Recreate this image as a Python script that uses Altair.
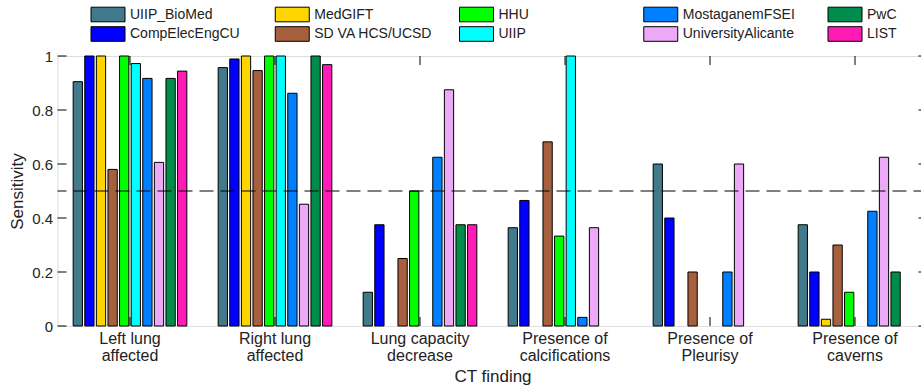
import altair as alt
import pandas as pd

findings = ["Left lung|affected", "Right lung|affected", "Lung capacity|decrease",
            "Presence of|calcifications", "Presence of|Pleurisy", "Presence of|caverns"]

teams = ["UIIP_BioMed", "CompElecEngCU", "MedGIFT", "SD VA HCS/UCSD", "HHU",
         "UIIP", "MostaganemFSEI", "UniversityAlicante", "PwC", "LIST"]
colors = ["#417A8B", "#0000FF", "#FFD500", "#A6603E", "#00FF00",
          "#00FFFF", "#0080FF", "#EBA9F7", "#008C4B", "#FF1CB6"]

uiip_biomed = [0.905, 0.957, 0.125, 0.364, 0.600, 0.375]
compelec = [1.000, 0.989, 0.375, 0.465, 0.400, 0.200]
medgift = [1.000, 1.000, 0.000, 0.000, 0.000, 0.025]
sdva = [0.580, 0.946, 0.250, 0.682, 0.200, 0.300]
hhu = [1.000, 1.000, 0.500, 0.333, 0.000, 0.125]
uiip = [0.972, 1.000, 0.000, 1.000, 0.000, 0.000]
mostaganem = [0.917, 0.862, 0.625, 0.032, 0.200, 0.425]
alicante = [0.606, 0.451, 0.875, 0.364, 0.600, 0.625]
pwc = [0.917, 1.000, 0.375, 0.000, 0.000, 0.200]
list_team = [0.944, 0.968, 0.375, 0.000, 0.000, 0.000]

series = [uiip_biomed, compelec, medgift, sdva, hhu, uiip, mostaganem, alicante, pwc, list_team]

y_ticks = [0, 0.2, 0.4, 0.6, 0.8, 1.0]

rows = []
for t, vals in zip(teams, series):
    for f, v in zip(findings, vals):
        rows.append({"finding": f, "team": t, "value": v})
df = pd.DataFrame(rows)

# legend grid: 2 rows x 5 columns, filled column by column
leg_df = pd.DataFrame({"team": teams,
                       "col": [i // 2 for i in range(len(teams))],
                       "row": [i % 2 for i in range(len(teams))]})

FONT = "Liberation Sans"
W, H = 870, 270
TXT = "#222"

xscale = alt.Scale(domain=findings, paddingInner=0.2, paddingOuter=0.1)
yscale = alt.Scale(domain=[0, 1], nice=False)
cscale = alt.Scale(domain=teams, range=colors)

xaxis = alt.Axis(title="CT finding", labelAngle=0, ticks=False, domain=False,
                 labelExpr="split(datum.label, '|')", labelFont=FONT,
                 labelFontSize=16, labelLineHeight=17, labelPadding=4,
                 labelColor=TXT, titleFont=FONT, titleFontSize=17,
                 titleFontWeight="normal", titleColor=TXT, titlePadding=5)
yaxis = alt.Axis(title="Sensitivity", values=y_ticks, format="~g", ticks=False,
                 domain=False, grid=False, labelFont=FONT, labelFontSize=15,
                 labelPadding=5, labelColor=TXT, titleFont=FONT,
                 titleFontSize=17, titleFontWeight="normal", titleColor=TXT,
                 titlePadding=5)

bars = alt.Chart(df).transform_filter("datum.value > 0").mark_bar(
    stroke="black", strokeWidth=1).encode(
    x=alt.X("finding:N", scale=xscale, sort=findings, axis=xaxis),
    xOffset=alt.XOffset("team:N", sort=teams,
                        scale=alt.Scale(domain=teams, paddingInner=0.2, paddingOuter=0.1)),
    y=alt.Y("value:Q", scale=yscale, axis=yaxis),
    color=alt.Color("team:N", scale=cscale, legend=None),
)

tick_df = pd.DataFrame({"v": y_ticks})
cat_df = pd.DataFrame({"finding": findings})

left_ticks = alt.Chart(tick_df).mark_rule(color="black", strokeWidth=1).encode(
    y=alt.Y("v:Q", scale=yscale, axis=None), x=alt.value(0), x2=alt.value(9))
right_ticks = alt.Chart(tick_df).mark_rule(color="black", strokeWidth=1).encode(
    y=alt.Y("v:Q", scale=yscale, axis=None), x=alt.value(W - 9), x2=alt.value(W))
top_ticks = alt.Chart(cat_df).mark_rule(color="black", strokeWidth=1).encode(
    x=alt.X("finding:N", scale=xscale, sort=findings, axis=None),
    y=alt.value(0), y2=alt.value(9))
bottom_ticks = alt.Chart(cat_df).mark_rule(color="black", strokeWidth=1).encode(
    x=alt.X("finding:N", scale=xscale, sort=findings, axis=None),
    y=alt.value(H - 9), y2=alt.value(H))

ref_df = pd.DataFrame({"threshold": [0.5]})
ref = alt.Chart(ref_df).mark_rule(color="black", strokeWidth=1, strokeDash=[14, 7]).encode(
    y=alt.Y("threshold:Q", scale=yscale, axis=None))

# legend drawn as its own layer (its scales place the 2x5 grid above the plot)
leg_x = alt.Scale(type="point", domain=[0, 1, 2, 3, 4], range=[50.5, 787.5], padding=0)
leg_y = alt.Scale(type="point", domain=[0, 1], range=[-41.5, -22], padding=0)
leg_sym = alt.Chart(leg_df).mark_point(
    shape="M-1,-0.43L1,-0.43L1,0.43L-1,0.43Z", size=1156, filled=True, opacity=1,
    stroke="black", strokeWidth=1).encode(
    x=alt.X("col:O", scale=leg_x, axis=None),
    y=alt.Y("row:O", scale=leg_y, axis=None),
    fill=alt.Fill("team:N", scale=cscale, legend=None),
)
leg_txt = alt.Chart(leg_df).mark_text(
    align="left", baseline="middle", dx=22, font=FONT, fontSize=14, color=TXT).encode(
    x=alt.X("col:O", scale=leg_x, axis=None),
    y=alt.Y("row:O", scale=leg_y, axis=None),
    text="team:N",
)

chart = alt.layer(bars, ref, left_ticks, right_ticks, top_ticks, bottom_ticks,
                  leg_sym, leg_txt).resolve_scale(
    x="independent", y="independent"
).properties(
    width=W, height=H,
    padding={"left": 57.5, "top": 56, "right": -6.5, "bottom": 63},
    autosize=alt.AutoSizeParams(type="none"),
).configure_view(stroke="black", strokeWidth=1).configure(background="white")

chart.save("out.html", embed_options={"renderer": "svg", "actions": False})
